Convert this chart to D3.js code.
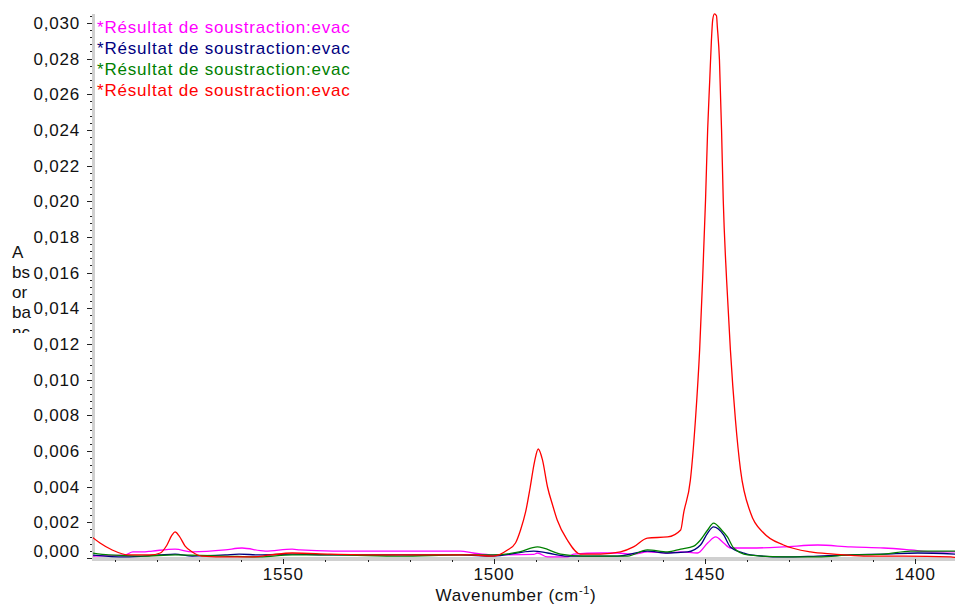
<!DOCTYPE html>
<html>
<head>
<meta charset="utf-8">
<script src="https://cdn.jsdelivr.net/npm/d3@7"></script>
<style>
  body { margin: 0; background: #fff; }
  svg { display: block; font-family: "Liberation Sans", Arial, sans-serif; }
</style>
</head>
<body>
<script>
// spectra: [wavenumber cm-1, absorbance]
const magenta = [[1595.4,0.00010],[1587.6,0.00017],[1585.7,0.00034],[1583.5,0.00034],[1581.1,0.00039],[1575.7,0.00050],
  [1571.6,0.00034],[1563.8,0.00045],[1559.8,0.00056],[1554.3,0.00039],[1547.9,0.00050],[1546.0,0.00045],[1538.2,0.00039],
  [1530.1,0.00039],[1522.2,0.00039],[1514.4,0.00039],[1508.0,0.00039],[1504.9,0.00028],[1500.2,0.00017],[1490.6,0.00020],
  [1489.7,0.00028],[1487.3,0.00006],[1482.6,0.00006],[1481.1,0.00022],[1474.7,0.00028],[1470.7,0.00028],[1466.9,0.00022],
  [1463.6,0.00034],[1458.8,0.00028],[1455.7,0.00034],[1451.7,0.00028],[1449.3,0.00084],[1447.4,0.00118],[1445.5,0.00084],
  [1443.9,0.00056],[1439.1,0.00056],[1431.3,0.00062],[1423.2,0.00073],[1415.4,0.00062],[1407.5,0.00056],[1401.1,0.00045],
  [1395.6,0.00034],[1390.4,0.00034]];

const navy = [[1595.4,0.00017],[1587.6,0.00006],[1579.5,0.00017],[1575.7,0.00022],[1571.6,0.00011],[1563.8,0.00017],
  [1560.5,0.00022],[1555.7,0.00017],[1547.9,0.00022],[1538.2,0.00017],[1522.2,0.00017],[1508.0,0.00017],[1500.2,0.00011],
  [1490.6,0.00039],[1487.3,0.00028],[1482.6,0.00011],[1470.7,0.00011],[1463.6,0.00039],[1458.8,0.00028],[1454.1,0.00034],
  [1451.0,0.00073],[1449.3,0.00140],[1447.9,0.00174],[1445.5,0.00129],[1443.9,0.00062],[1440.8,0.00028],[1439.1,0.00017],
  [1431.3,0.00006],[1423.2,0.00011],[1415.4,0.00017],[1407.5,0.00022],[1399.4,0.00028],[1390.4,0.00022]];

const green = [[1595.4,0.00028],[1591.4,0.00017],[1583.5,0.00011],[1575.7,0.00017],[1563.8,0.00011],[1555.7,0.00006],
  [1547.9,0.00017],[1538.2,0.00017],[1522.2,0.00011],[1508.0,0.00017],[1500.2,0.00017],[1494.0,0.00034],[1489.7,0.00062],
  [1484.2,0.00022],[1478.8,0.00011],[1468.3,0.00011],[1463.6,0.00045],[1458.8,0.00034],[1455.7,0.00050],[1452.6,0.00067],
  [1451.0,0.00101],[1449.3,0.00157],[1447.9,0.00196],[1446.0,0.00157],[1444.6,0.00118],[1443.1,0.00056],[1439.8,0.00017],
  [1431.3,0.00006],[1423.2,0.00006],[1415.4,0.00017],[1407.5,0.00022],[1401.1,0.00039],[1390.4,0.00039]];

const red = [[1595.4,0.00118],[1593.5,0.00084],[1590.6,0.00045],[1586.6,0.00017],[1581.6,0.00017],[1579.2,0.00028],
  [1577.6,0.00073],[1576.4,0.00129],[1575.7,0.00146],[1574.7,0.00123],[1573.3,0.00067],[1571.6,0.00034],[1569.3,0.00011],
  [1562.6,0.00006],[1557.4,0.00006],[1553.1,0.00017],[1547.9,0.00028],[1538.9,0.00022],[1527.0,0.00017],[1515.1,0.00017],
  [1505.6,0.00017],[1500.2,0.00011],[1496.8,0.00045],[1494.9,0.00084],[1493.7,0.00157],[1492.5,0.00258],[1491.4,0.00398],
  [1490.4,0.00538],[1489.5,0.00611],[1488.5,0.00550],[1487.3,0.00398],[1486.1,0.00297],[1485.0,0.00213],[1482.6,0.00101],
  [1479.5,0.00022],[1474.7,0.00022],[1470.0,0.00034],[1466.9,0.00062],[1463.6,0.00112],[1458.8,0.00118],[1455.7,0.00157],
  [1455.0,0.00252],[1453.4,0.00437],[1452.2,0.00774],[1451.2,0.01167],[1450.5,0.01559],[1449.8,0.02008],[1449.3,0.02400],
  [1448.8,0.02681],[1448.4,0.02905],[1448.1,0.03017],[1447.7,0.03051],[1447.2,0.03040],[1447.0,0.02978],[1446.5,0.02793],
  [1446.0,0.02400],[1445.6,0.02008],[1444.8,0.01559],[1443.9,0.01167],[1442.7,0.00774],[1441.5,0.00494],[1439.1,0.00252],
  [1436.0,0.00140],[1431.3,0.00073],[1424.9,0.00034],[1419.4,0.00022],[1412.3,0.00011],[1402.8,0.00011],[1391.6,0.00006],
  [1390.4,0.00003]];

const seriesNames = ['*Résultat de soustraction:evac', '*Résultat de soustraction:evac',
                     '*Résultat de soustraction:evac', '*Résultat de soustraction:evac'];
const seriesColors = ['#ff00ff', '#000080', '#008000', '#ff0000'];
const seriesData = [magenta, navy, green, red];

const xMajorTicks = [1550, 1500, 1450, 1400];
const yMajorTicks = d3.range(0, 0.0301, 0.002);
const yLabelLines = ['A', 'bs', 'or', 'ba', 'nc'];

const width = 955, height = 606;
const mLeft = 92, mRight = 955, mTop = 14, mBottom = 558;

const x = d3.scaleLinear().domain([1595.4, 1390.6]).range([mLeft, mRight]);
const y = d3.scaleLinear().domain([0, 0.0305]).range([mBottom, mTop]);

const fmt = d => d3.format('.3f')(d).replace('.', ',');

const svg = d3.select('body').append('svg')
    .attr('width', width).attr('height', height);

const defs = svg.append('defs');
defs.append('clipPath').attr('id', 'plot')
  .append('rect').attr('x', mLeft + 1).attr('y', 0).attr('width', mRight - mLeft).attr('height', mBottom + 2);
defs.append('clipPath').attr('id', 'ylab')
  .append('rect').attr('x', 0).attr('y', 235).attr('width', 40).attr('height', 98);

// axis bands
svg.append('rect').attr('x', mLeft).attr('y', mTop).attr('width', 3).attr('height', mBottom - mTop + 3)
    .attr('fill', '#d0d0d0');
svg.append('rect').attr('x', mLeft).attr('y', mBottom - 1).attr('width', mRight - mLeft).attr('height', 4)
    .attr('fill', '#d0d0d0');

// y ticks
const yMinor = d3.range(0, 0.03045, 0.0004);
svg.append('g').selectAll('line').data(yMinor).join('line')
    .attr('x1', mLeft - 2).attr('x2', mLeft)
    .attr('y1', d => Math.round(y(d)) + 0.5).attr('y2', d => Math.round(y(d)) + 0.5)
    .attr('stroke', '#222').attr('stroke-width', 1);
svg.append('g').selectAll('line').data(yMajorTicks).join('line')
    .attr('x1', mLeft - 5).attr('x2', mLeft)
    .attr('y1', d => Math.round(y(d)) + 0.5).attr('y2', d => Math.round(y(d)) + 0.5)
    .attr('stroke', '#222').attr('stroke-width', 1);
svg.append('g').selectAll('text').data(yMajorTicks).join('text')
    .attr('x', 80).attr('y', d => Math.min(y(d), 551))
    .attr('dy', '0.35em').attr('text-anchor', 'end')
    .attr('font-size', 17).attr('letter-spacing', 0.8).attr('fill', '#111')
    .text(fmt);

// x ticks
const xMinor = d3.range(1590, 1390, -10);
svg.append('g').selectAll('line').data(xMinor).join('line')
    .attr('x1', d => Math.round(x(d)) + 0.5).attr('x2', d => Math.round(x(d)) + 0.5)
    .attr('y1', mBottom + 2).attr('y2', mBottom + 4)
    .attr('stroke', '#222');
svg.append('g').selectAll('line').data(xMajorTicks).join('line')
    .attr('x1', d => Math.round(x(d)) + 0.5).attr('x2', d => Math.round(x(d)) + 0.5)
    .attr('y1', mBottom + 1).attr('y2', mBottom + 6)
    .attr('stroke', '#222');
svg.append('g').selectAll('text').data(xMajorTicks).join('text')
    .attr('x', d => x(d)).attr('y', 580)
    .attr('text-anchor', 'middle').attr('font-size', 17).attr('letter-spacing', 0.8).attr('fill', '#111')
    .text(d => d);

// x title
const xt = svg.append('text').attr('x', 516).attr('y', 601)
    .attr('text-anchor', 'middle').attr('font-size', 17).attr('letter-spacing', 0.7).attr('fill', '#111');
xt.append('tspan').text('Wavenumber (cm');
xt.append('tspan').attr('dy', -7).attr('font-size', 11).text('-1');
xt.append('tspan').attr('dy', 7).text(')');

// y title (wrapped & clipped like the original)
svg.append('g').attr('clip-path', 'url(#ylab)')
  .selectAll('text').data(yLabelLines).join('text')
    .attr('x', 12).attr('y', (d, i) => 258 + i * 20)
    .attr('font-size', 17).attr('fill', '#111')
    .text(d => d);

// spectra
const line = d3.line()
    .x(d => x(d[0]))
    .y(d => y(d[1]))
    .curve(d3.curveMonotoneX);

svg.append('g').attr('clip-path', 'url(#plot)')
  .selectAll('path').data(seriesData).join('path')
    .attr('d', line)
    .attr('fill', 'none')
    .attr('stroke', (d, i) => seriesColors[i])
    .attr('stroke-width', 1.3);

// legend
svg.append('g').selectAll('text').data(seriesNames).join('text')
    .attr('x', 97).attr('y', (d, i) => 33 + i * 21)
    .attr('font-size', 17).attr('letter-spacing', 0.8).attr('fill', (d, i) => seriesColors[i])
    .text(d => d);
</script>
</body>
</html>
